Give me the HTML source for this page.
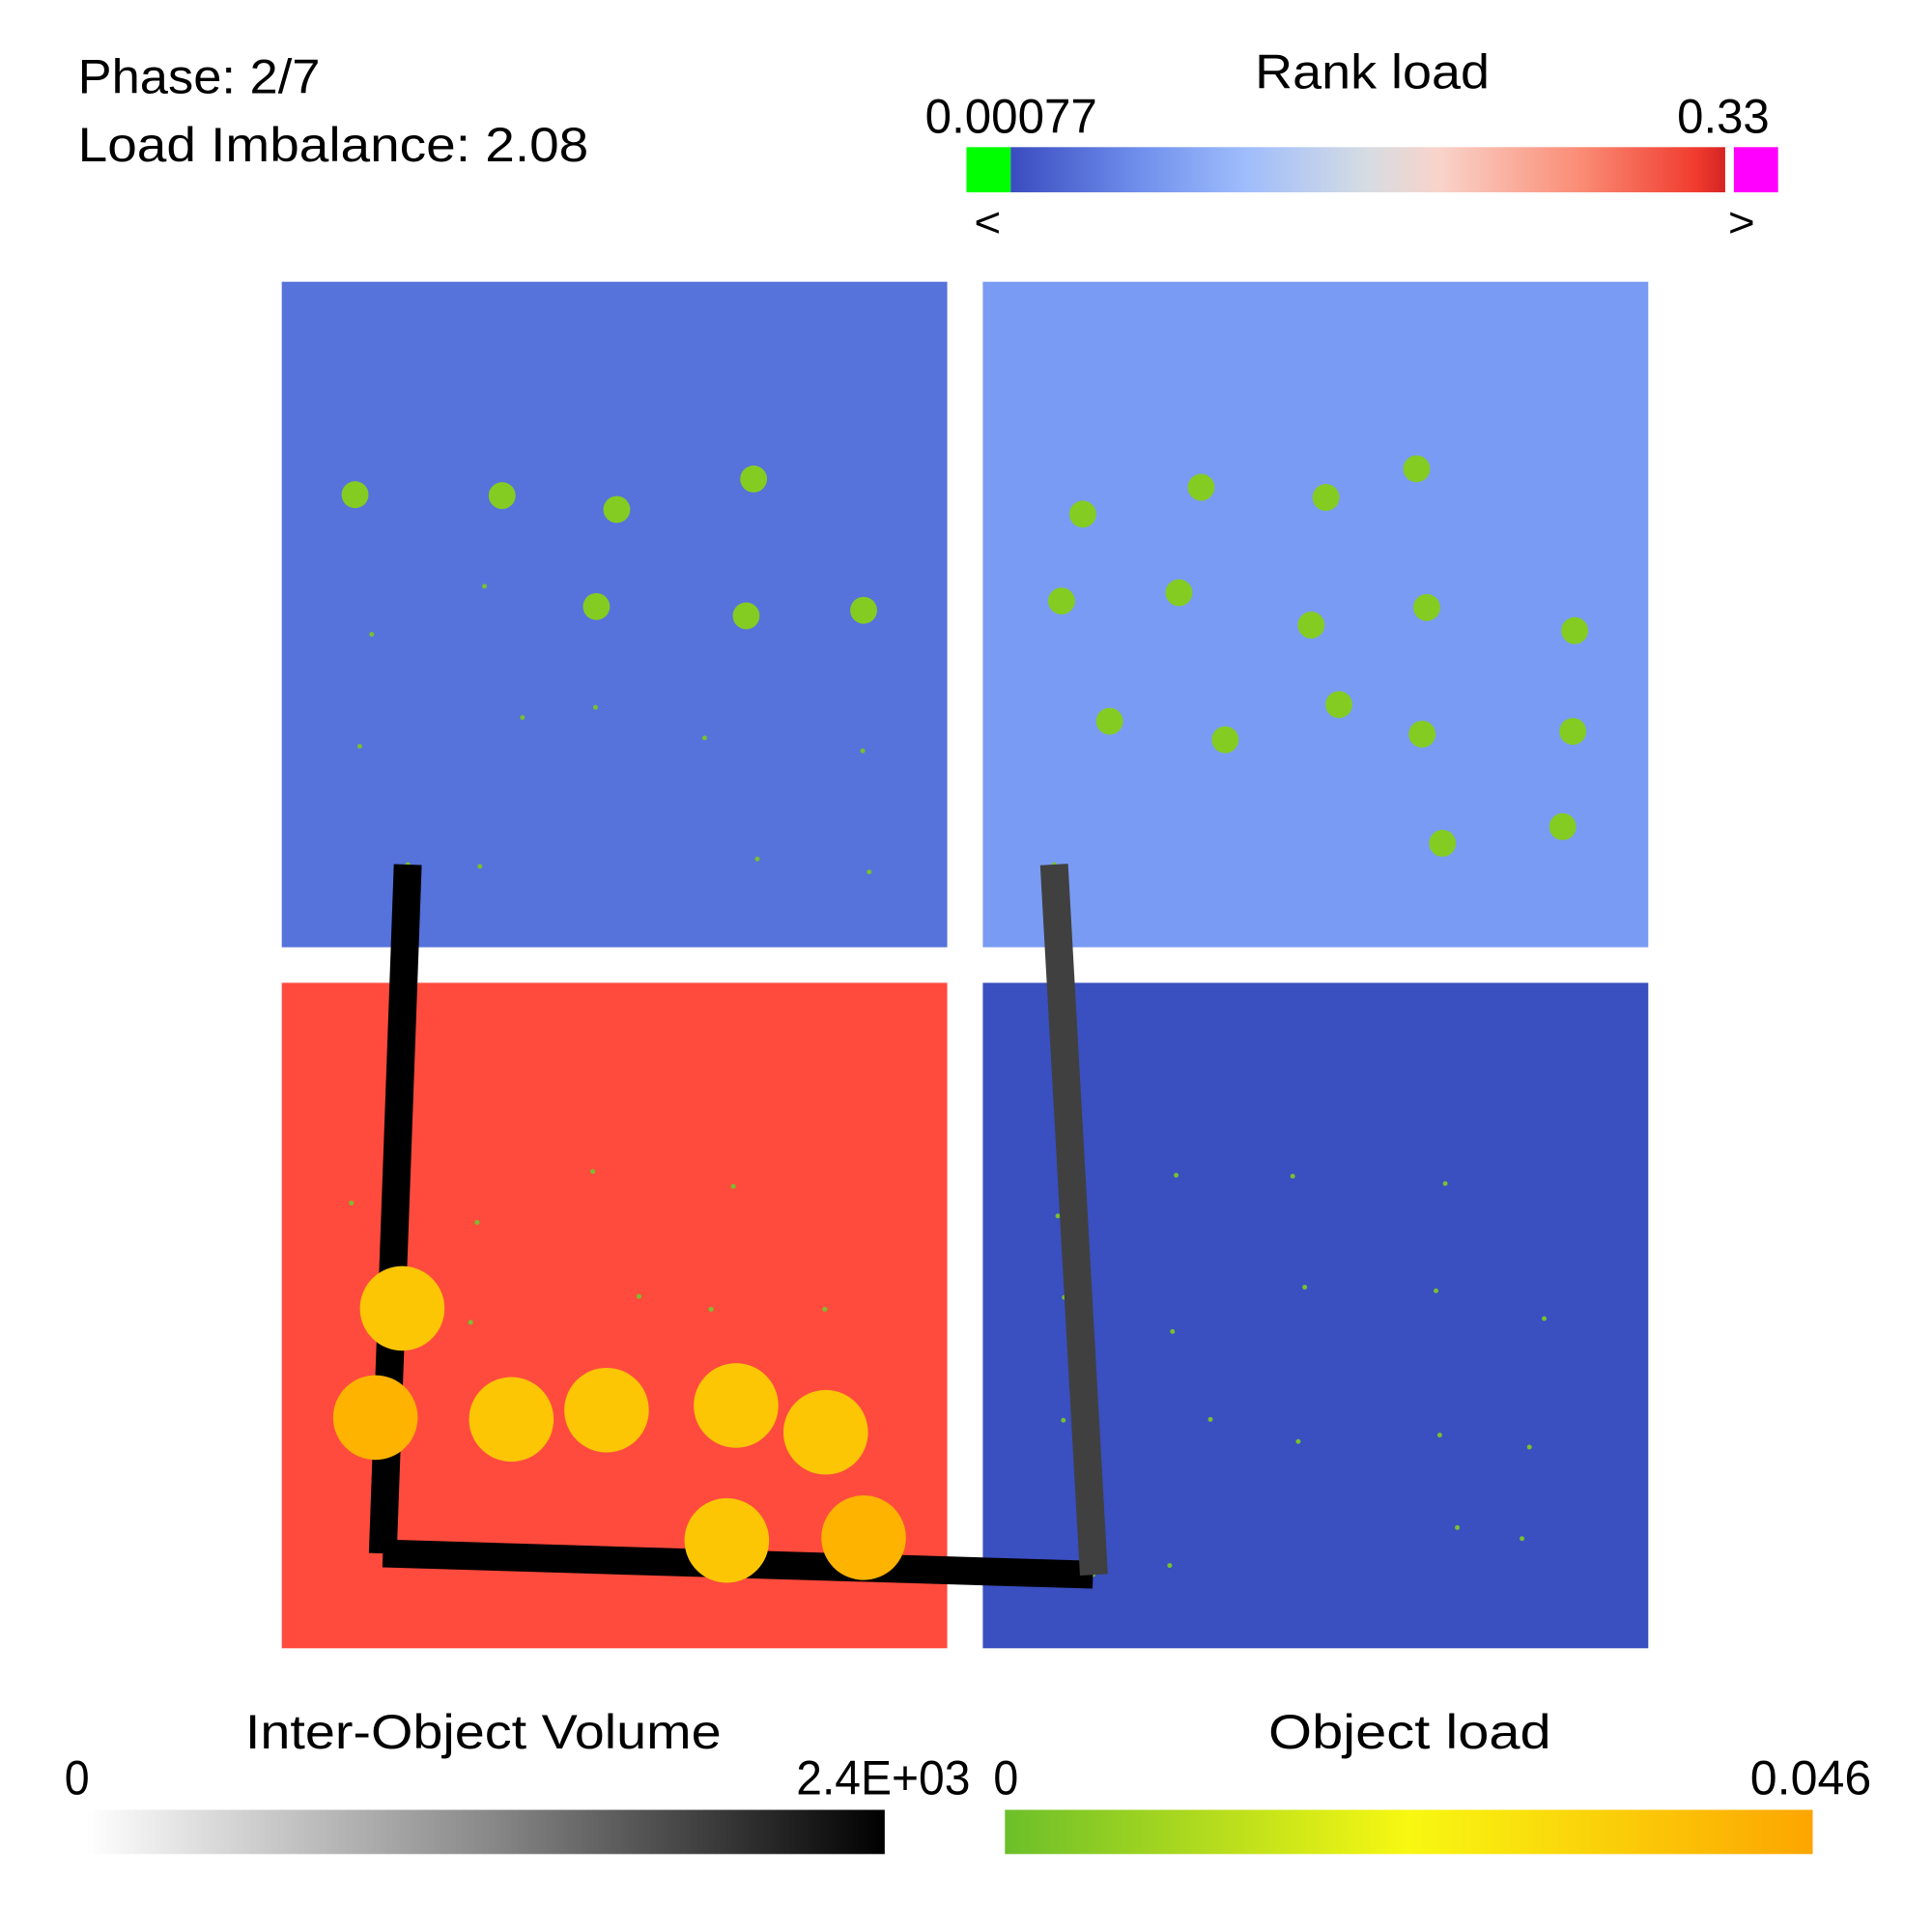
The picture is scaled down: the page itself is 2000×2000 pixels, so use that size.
<!DOCTYPE html>
<html><head><meta charset="utf-8"><style>
html,body{margin:0;padding:0;background:#fff;width:2000px;height:2000px;overflow:hidden}
svg text{font-family:"Liberation Sans",sans-serif;fill:#000}
</style></head><body>
<svg id="chart" width="2000" height="2000" viewBox="0 0 2000 2000" xmlns="http://www.w3.org/2000/svg">
<defs>
<linearGradient id="gRank" x1="0" x2="1" y1="0" y2="0">
<stop offset="0" stop-color="#3A4CC0"/><stop offset="0.18" stop-color="#6F8FEC"/><stop offset="0.33" stop-color="#9FBDFC"/><stop offset="0.5" stop-color="#D6DCE2"/><stop offset="0.6" stop-color="#F9D3CA"/><stop offset="0.8" stop-color="#FA8B74"/><stop offset="0.96" stop-color="#F03B2E"/><stop offset="1" stop-color="#D42323"/>
</linearGradient>
<linearGradient id="gVol" x1="0" x2="1" y1="0" y2="0">
<stop offset="0" stop-color="#FFFFFF"/><stop offset="0.5" stop-color="#8A8A8A"/><stop offset="1" stop-color="#000000"/>
</linearGradient>
<linearGradient id="gObj" x1="0" x2="1" y1="0" y2="0">
<stop offset="0" stop-color="#6CBF2A"/><stop offset="0.5" stop-color="#F8F812"/><stop offset="1" stop-color="#FDA500"/>
</linearGradient>
</defs>
<g transform="scale(0.9955)">
<text x="81" y="97" font-size="50" textLength="252" lengthAdjust="spacingAndGlyphs">Phase: 2/7</text>
<text x="81" y="168" font-size="50" textLength="531" lengthAdjust="spacingAndGlyphs">Load Imbalance: 2.08</text>
<text x="1305" y="92" font-size="50" textLength="244" lengthAdjust="spacingAndGlyphs">Rank load</text>
<text x="962" y="138" font-size="50" textLength="179" lengthAdjust="spacingAndGlyphs">0.00077</text>
<text x="1744" y="138" font-size="50" textLength="96" lengthAdjust="spacingAndGlyphs">0.33</text>
<rect x="1005" y="153" width="46" height="47" fill="#00FF00"/>
<rect x="1051" y="153" width="743" height="47" fill="url(#gRank)"/>
<rect x="1803" y="153" width="46" height="47" fill="#FF00FF"/>
<text x="1013" y="246" font-size="44" textLength="28" lengthAdjust="spacingAndGlyphs">&lt;</text>
<text x="1797" y="246" font-size="44" textLength="28" lengthAdjust="spacingAndGlyphs">&gt;</text>

<g id="panels"></g>
<g id="smalldots"></g>
<g id="edges"></g>
<g id="objects"></g>

<text x="255" y="1818" font-size="50" textLength="495" lengthAdjust="spacingAndGlyphs">Inter-Object Volume</text>
<text x="67" y="1866" font-size="50" textLength="26" lengthAdjust="spacingAndGlyphs">0</text>
<text x="828" y="1866" font-size="50" textLength="181" lengthAdjust="spacingAndGlyphs">2.4E+03</text>
<rect x="90" y="1882" width="830" height="46" fill="url(#gVol)"/>
<text x="1319" y="1818" font-size="50" textLength="294" lengthAdjust="spacingAndGlyphs">Object load</text>
<text x="1033" y="1866" font-size="50" textLength="26" lengthAdjust="spacingAndGlyphs">0</text>
<text x="1820" y="1866" font-size="50" textLength="126" lengthAdjust="spacingAndGlyphs">0.046</text>
<rect x="1045" y="1882" width="840" height="46" fill="url(#gObj)"/>
</g>
</svg>
<script>
const rankNames = ['rank-0','rank-1','rank-2','rank-3'];
const rankLoads = [0.08, 0.13, 0.33, 0.02];
const rankCol = [0, 1, 0, 1];
const rankRow = [0, 0, 1, 1];
const rankColors = ['#5672DB', '#7A9BF4', '#FF4B3E', '#3A4FC0'];
const medX = [124,283,407,555,385,547,674,911,1039,1174,1272,888,1015,1158,1283,1443,940,1065,1188,1278,1441,1300,1430];
const medY = [275,276,291,258,396,406,400,296,267,278,247,390,381,416,397,422,520,540,502,534,531,652,634];
const tinyX = [142,264,305,384,502,129,673,259,559,680,120,256,381,533,249,431,509,632,1012,1138,1303,884,1151,1293,1410,891,1008,1049,1144,1297,1394,890,1316,1386,1005,181,880,154,922];
const tinyY = [426,374,516,505,538,547,552,677,669,683,1041,1062,1007,1023,1170,1142,1156,1156,1011,1012,1020,1055,1132,1136,1166,1143,1180,1275,1299,1292,1305,1276,1392,1404,1433,675,675,1416,1443];
const bigX = [175,146,293,396,536,633,526,674];
const bigY = [1155,1273,1275,1265,1260,1289,1406,1403];
const bigLoad = [0.040,0.044,0.040,0.041,0.040,0.040,0.041,0.044];
const edgeX1 = [181,154,880];
const edgeY1 = [675,1420,675];
const edgeX2 = [154,922,923];
const edgeY2 = [1420,1443,1443];
const edgeVol = [2400,2400,1800];

const NS = 'http://www.w3.org/2000/svg';
function sx(v){ return 250 + v/1.04; }
function sy(v){ return 250 + v/1.04; }
function volColor(v){ const g = Math.round(255*(1 - v/2400)); return 'rgb('+g+','+g+','+g+')'; }
function objColor(l){ return l>0.042 ? '#FDB300' : '#FDC605'; }
function mk(tag, attrs, parent){ const e=document.createElementNS(NS,tag); for(const k in attrs) e.setAttribute(k,attrs[k]); parent.appendChild(e); return e; }

const panels = document.getElementById('panels');
for (let i=0;i<rankNames.length;i++){
  const r = mk('rect',{x:293+rankCol[i]*729,y:293+rankRow[i]*729,width:692,height:692,fill:rankColors[i]},panels);
  
  
}
const sd = document.getElementById('smalldots');
for (let i=0;i<tinyX.length;i++){
  const c = mk('circle',{cx:sx(tinyX[i]),cy:sy(tinyY[i]),r:2.5,fill:'#78C030'},sd);
  
  
}
const ed = document.getElementById('edges');
for (let i=0;i<edgeX1.length;i++){
  const l = mk('line',{x1:sx(edgeX1[i]),y1:sy(edgeY1[i]),x2:sx(edgeX2[i]),y2:sy(edgeY2[i]),stroke:volColor(edgeVol[i]),'stroke-width':29},ed);
  
  
}
const ob = document.getElementById('objects');
for (let i=0;i<medX.length;i++){
  const c = mk('circle',{cx:sx(medX[i]),cy:sy(medY[i]),r:14,fill:'#84CC22'},ob);
  
  
}
for (let i=0;i<bigX.length;i++){
  const c = mk('circle',{cx:sx(bigX[i]),cy:sy(bigY[i]),r:44,fill:objColor(bigLoad[i])},ob);
  
  
}
</script>
</body></html>
